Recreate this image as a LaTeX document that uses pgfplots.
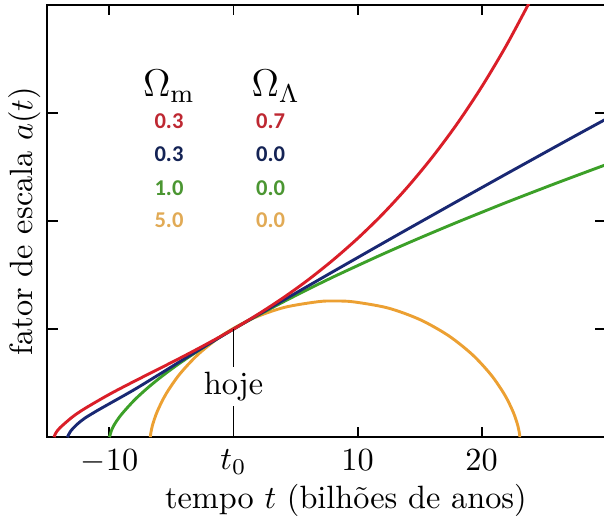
\documentclass[border=0pt]{standalone}
\usepackage{pgfplots}
\pgfplotsset{compat=1.18}
\usepackage{fontspec}
\newfontfamily\calfont{Carlito}
\definecolor{cred}{RGB}{218,30,40}
\definecolor{cblue}{RGB}{25,40,115}
\definecolor{cgreen}{RGB}{60,160,40}
\definecolor{corange}{RGB}{236,160,50}
\definecolor{tred}{RGB}{190,40,50}
\definecolor{tblue}{RGB}{20,35,85}
\definecolor{tgreen}{RGB}{75,150,50}
\definecolor{torange}{RGB}{225,170,85}
\begin{document}
\begin{tikzpicture}
\begin{axis}[
  scale only axis,
  width=173pt, height=134pt,
  xmin=-15, xmax=30, ymin=0, ymax=4,
  xtick={-10,0,10,20},
  xticklabels={$-10$,$t_0$,$10$,$20$},
  xticklabel style={yshift=-0.4pt},
  ytick={1,2,3},
  yticklabels={},
  tick align=inside,
  major tick length=3.3pt,
  axis line style={line width=0.6pt},
  every tick/.style={black, line width=0.6pt},
  xlabel={tempo $t$ (bilhões de anos)},
  ylabel={fator de escala $a(t)$},
  xlabel style={yshift=3.7pt, xshift=6pt},
  every axis y label/.style={at={(axis description cs:0,0.5)}, rotate=90, anchor=south, inner sep=2pt},
  clip=true,
]
% Omega_m=5.0, Omega_L=0.0
\addplot[corange, line width=0.9pt, smooth] coordinates {
(-6.700,0) (-6.679,0.028) (-6.532,0.110) (-6.147,0.238) (-5.430,0.402) (-4.318,0.586)
(-2.784,0.773) (-0.838,0.948) (1.474,1.095) (4.072,1.200) (6.851,1.254) (8.191,1.260)
(9.689,1.252) (12.461,1.195) (15.046,1.087) (17.339,0.939) (19.263,0.763) (20.774,0.575)
(21.862,0.392) (22.559,0.230) (22.928,0.104) (23.064,0.025) (23.080,0)};
% Omega_m=1.0
\addplot[cgreen, line width=0.9pt, smooth] coordinates {
(-10,0) (-9.8,0.074) (-9.5,0.136) (-9,0.215) (-8,0.342) (-7,0.448) (-6,0.543) (-5,0.630)
(-4,0.711) (-2,0.862) (0,1) (2,1.129) (4,1.251) (6,1.368) (8,1.480) (10,1.587) (12,1.692)
(14,1.793) (16,1.891) (18,1.987) (20,2.080) (22,2.172) (24,2.261) (26,2.349) (28,2.435) (30,2.520)};
% Omega_m=0.3, Omega_L=0
\addplot[cblue, line width=0.9pt, smooth] coordinates {
(-13.4,0) (-13.1,0.06) (-12.6,0.12) (-12,0.175) (-11,0.245) (-10,0.31) (-8,0.44) (-6,0.58)
(-4,0.722) (-2,0.862) (0,1) (2,1.133) (4,1.266) (6,1.398) (8,1.530) (10,1.661) (12,1.792)
(14,1.922) (16,2.051) (18,2.180) (20,2.308) (22,2.436) (24,2.563) (26,2.690) (28,2.816) (30,2.941)};
% Omega_m=0.3, Omega_L=0.7
\addplot[cred, line width=0.9pt, smooth] coordinates {
(-14.46,0) (-14.4,0.022) (-14.3,0.043) (-14,0.086) (-13,0.186) (-12,0.264) (-10,0.397)
(-8,0.517) (-6,0.633) (-4,0.750) (-2,0.872) (0,1.000) (2,1.139) (4,1.289) (6,1.454)
(8,1.637) (10,1.838) (12,2.061) (14,2.310) (16,2.587) (18,2.895) (20,3.240) (22,3.625) (24,4.054)};
\draw[line width=0.5pt] (axis cs:0,0) -- (axis cs:0,1);
\node[fill=white, inner sep=1.5pt] at (axis cs:0,0.47) {hoje};
\node at (axis cs:-5.2,3.25) {\large$\Omega_{\mathrm{m}}$};
\node at (axis cs:3.4,3.25) {\large$\Omega_{\Lambda}$};
\node[font=\calfont\bfseries\fontsize{7}{8}\selectfont, text=tred] at (axis cs:-5.2,2.925) {0.3};
\node[font=\calfont\bfseries\fontsize{7}{8}\selectfont, text=tred] at (axis cs:3.0,2.925) {0.7};
\node[font=\calfont\bfseries\fontsize{7}{8}\selectfont, text=tblue] at (axis cs:-5.2,2.617) {0.3};
\node[font=\calfont\bfseries\fontsize{7}{8}\selectfont, text=tblue] at (axis cs:3.0,2.617) {0.0};
\node[font=\calfont\bfseries\fontsize{7}{8}\selectfont, text=tgreen] at (axis cs:-5.2,2.308) {1.0};
\node[font=\calfont\bfseries\fontsize{7}{8}\selectfont, text=tgreen] at (axis cs:3.0,2.308) {0.0};
\node[font=\calfont\bfseries\fontsize{7}{8}\selectfont, text=torange] at (axis cs:-5.2,2.009) {5.0};
\node[font=\calfont\bfseries\fontsize{7}{8}\selectfont, text=torange] at (axis cs:3.0,2.009) {0.0};
\end{axis}
\pgfresetboundingbox
\path ([xshift=-0.5pt,yshift=-1pt]current axis.outer south west) rectangle ([xshift=-0.5pt,yshift=1.5pt]current axis.north east);
\end{tikzpicture}
\end{document}
